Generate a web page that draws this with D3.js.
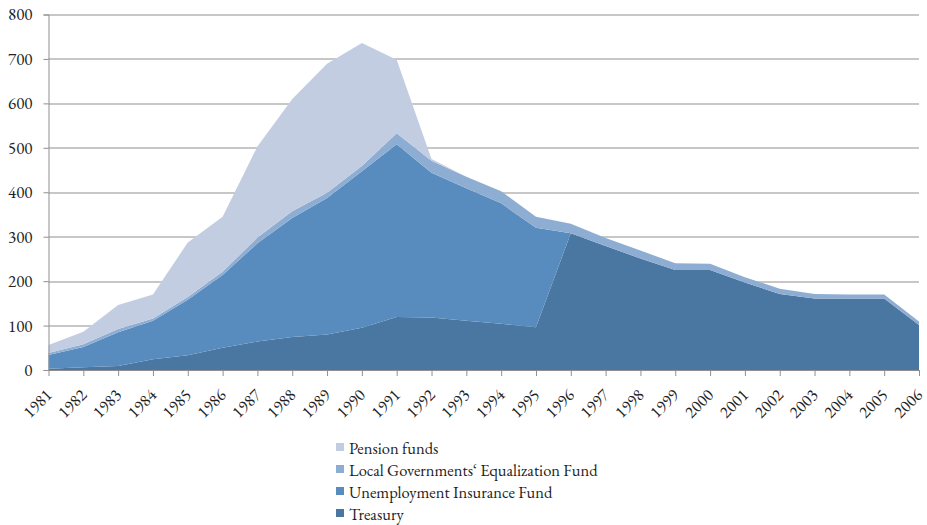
<!DOCTYPE html>
<html>
<head>
  <meta charset="utf-8">
  <script src="https://cdn.jsdelivr.net/npm/d3@7"></script>
  <style type="text/css">
    body { margin: 0; background: #fff; }
  </style>
</head>
<body>
  <script type="text/javascript">
    const years = d3.range(1981, 2007);
    const treasury = [3, 6, 9, 24, 33, 50, 64, 74, 80, 95, 119, 118, 111, 104, 96,
      308, 279, 251, 225, 225, 197, 171, 161, 161, 161, 101];
    const unemployment = [31, 46, 76, 87, 125, 164, 221, 268, 307, 352, 389, 326, 298, 271, 224,
      0, 0, 0, 0, 0, 0, 0, 0, 0, 0, 0];
    const equalization = [4, 6, 7, 5, 6, 7, 13, 15, 12, 12, 25, 27, 26, 27, 25,
      21, 18, 18, 15, 14, 12, 12, 10, 9, 9, 8];
    const pension = [18, 28, 54, 54, 123, 124, 205, 253, 290, 277, 165, 4, 0, 0, 0,
      0, 0, 0, 0, 0, 0, 0, 0, 0, 0, 0];
    const yTicks = [0, 100, 200, 300, 400, 500, 600, 700, 800];

    const series = [
      { key: 'treasury', name: 'Treasury', values: treasury, color: '#4a76a2' },
      { key: 'uif', name: 'Unemployment Insurance Fund', values: unemployment, color: '#588cbe' },
      { key: 'lgef', name: 'Local Governments‘ Equalization Fund', values: equalization, color: '#8eadd3' },
      { key: 'pension', name: 'Pension funds', values: pension, color: '#c3cde2' }
    ];

    const FONT = '"EB Garamond", "Liberation Serif", serif';

    const width = 927;
    const height = 525;
    const margin = { top: 14.5, right: 8, bottom: 155, left: 48.5 };
    const w = width - margin.left - margin.right;
    const h = height - margin.top - margin.bottom;

    const svg = d3.select('body').append('svg')
      .attr('width', width)
      .attr('height', height);

    const g = svg.append('g')
      .attr('transform', `translate(${margin.left}, ${margin.top})`);

    const x = d3.scaleLinear().domain([1981, 2006]).range([0, w]);
    const y = d3.scaleLinear().domain([0, 800]).range([h, 0]);

    // table for the stack
    const table = years.map((yr, i) => {
      const row = { year: yr };
      series.forEach(s => { row[s.key] = s.values[i]; });
      return row;
    });

    const stack = d3.stack().keys(series.map(s => s.key));
    const layers = stack(table);

    // gridlines
    g.append('g')
      .selectAll('line')
      .data(yTicks.filter(d => d > 0))
      .join('line')
      .attr('x1', 0)
      .attr('x2', w)
      .attr('y1', d => Math.round(y(d)) + 0.5)
      .attr('y2', d => Math.round(y(d)) + 0.5)
      .style('stroke', '#8f8f8f')
      .style('stroke-width', 1);

    const area = d3.area()
      .x(d => x(d.data.year))
      .y0(d => y(d[0]))
      .y1(d => y(d[1]));

    g.selectAll('.layer')
      .data(layers)
      .join('path')
      .attr('class', 'layer')
      .attr('d', area)
      .style('fill', (d, i) => series[i].color);

    // y axis
    const yAxis = g.append('g')
      .call(d3.axisLeft(y).tickValues(yTicks).tickSize(5).tickPadding(11));
    yAxis.selectAll('line').style('stroke', '#8f8f8f');
    yAxis.select('.domain').style('stroke', '#8f8f8f');
    yAxis.selectAll('text')
      .style('font-size', '17px')
      .style('font-family', FONT)
      .style('fill', '#222');

    // x axis
    const xAxis = g.append('g')
      .attr('transform', `translate(0, ${h})`)
      .call(d3.axisBottom(x).tickValues(years).tickFormat(d3.format('d')).tickSize(6).tickSizeOuter(0));
    xAxis.selectAll('line').style('stroke', '#8f8f8f');
    xAxis.select('.domain').style('stroke', '#8f8f8f');
    xAxis.selectAll('text')
      .style('font-size', '17px')
      .style('font-family', FONT)
      .style('fill', '#222')
      .style('text-anchor', 'end')
      .attr('dy', null)
      .attr('y', 0)
      .attr('transform', 'translate(4, 26) rotate(-45)');

    // legend (top to bottom: pension, lgef, uif, treasury)
    const legend = svg.append('g')
      .attr('transform', 'translate(336, 443)');

    const items = legend.selectAll('g')
      .data(series.slice().reverse())
      .join('g')
      .attr('transform', (d, i) => `translate(0, ${i * 22})`);

    items.append('rect')
      .attr('width', 8)
      .attr('height', 8)
      .style('fill', d => d.color);

    items.append('text')
      .attr('x', 13)
      .attr('y', 11)
      .style('font-size', '16.5px')
      .style('font-family', FONT)
      .style('fill', '#222')
      .text(d => d.name);
  </script>
</body>
</html>
